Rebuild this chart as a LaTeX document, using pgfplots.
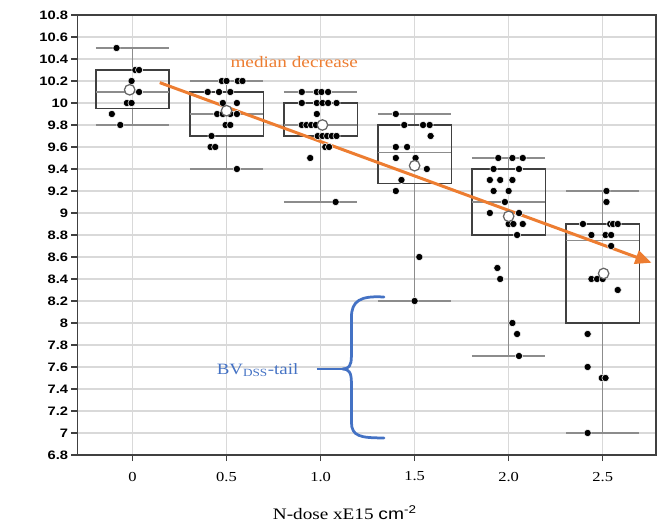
\documentclass[border=0pt]{standalone}
\usepackage{pgfplots}
\pgfplotsset{compat=1.18}
\usepgfplotslibrary{statistics}
\usetikzlibrary{arrows.meta}
\usepackage{fontspec}
\setmainfont{Liberation Serif}
\newfontfamily\serifw{Liberation Serif}[FakeStretch=1.2]
\newfontfamily\sansw{Liberation Sans}[FakeStretch=1.2]
\definecolor{morange}{HTML}{ED7D31}
\definecolor{mblue}{HTML}{4472C4}
\definecolor{axcol}{HTML}{404040}
\definecolor{whcol}{HTML}{8C8C8C}
\definecolor{gridcol}{HTML}{D9D9D9}
\begin{document}
\begin{tikzpicture}
\begin{axis}[
  scale only axis,
  width=462.8pt, height=352pt,
  xmin=-0.585, xmax=5.567,
  ymin=6.8, ymax=10.8,
  axis line style={draw=axcol, line width=1.1pt},
  xtick={0,1,2,3,4,5},
  xticklabels={0,0.5,1.0,1.5,2.0,2.5},
  ytick={6.8,7,7.2,7.4,7.6,7.8,8,8.2,8.4,8.6,8.8,9,9.2,9.4,9.6,9.8,10,10.2,10.4,10.6,10.8},
  yticklabels={6.8,7,7.2,7.4,7.6,7.8,8,8.2,8.4,8.6,8.8,9,9.2,9.4,9.6,9.8,10,10.2,10.4,10.6,10.8},
  tick align=outside,
  xtick pos=bottom, ytick pos=left,
  major tick length=5pt,
  tick style={draw=axcol, line width=1pt},
  grid=major,
  major grid style={draw=gridcol, line width=1.2pt},
  /pgf/number format/assume math mode=true,
  xticklabel style={font=\fontsize{11}{13}\selectfont\serifw, yshift=-5pt},
  yticklabel style={font=\fontsize{9.8}{11}\selectfont\sansw\bfseries, xshift=1pt},
  xlabel={N-dose xE15 {\sansw cm}\textsuperscript{\sansw -2}},
  xlabel style={font=\fontsize{12.8}{14}\selectfont\serifw, at={(axis description cs:0.462,0)}, anchor=center, yshift=-46pt},
  boxplot/draw direction=y,
  boxplot/box extend=0.78,
  boxplot/whisker extend=0.78,
  boxplot/every box/.style={draw=axcol, line width=1.1pt},
  boxplot/every whisker/.style={draw=whcol, line width=1pt},
  boxplot/every median/.style={draw=whcol, line width=1pt},
]
\addplot[draw=axcol, mark=none, boxplot prepared={draw position=0, lower whisker=9.8, lower quartile=9.95, median=10.1, upper quartile=10.3, upper whisker=10.5}] coordinates {};
\addplot[draw=axcol, mark=none, boxplot prepared={draw position=1, lower whisker=9.4, lower quartile=9.7, median=9.9, upper quartile=10.1, upper whisker=10.2}] coordinates {};
\addplot[draw=axcol, mark=none, boxplot prepared={draw position=2, lower whisker=9.1, lower quartile=9.7, median=9.8, upper quartile=10.0, upper whisker=10.1}] coordinates {};
\addplot[draw=axcol, mark=none, boxplot prepared={draw position=3, lower whisker=8.2, lower quartile=9.27, median=9.55, upper quartile=9.8, upper whisker=9.9}] coordinates {};
\addplot[draw=axcol, mark=none, boxplot prepared={draw position=4, lower whisker=7.7, lower quartile=8.8, median=9.1, upper quartile=9.4, upper whisker=9.5}] coordinates {};
\addplot[draw=axcol, mark=none, boxplot prepared={draw position=5, lower whisker=7.0, lower quartile=8.0, median=8.75, upper quartile=8.9, upper whisker=9.2}] coordinates {};
\addplot[only marks, mark=*, mark size=2.9pt, mark options={fill=black, draw=white, line width=0.4pt}] coordinates {
(-0.17,10.5) (0.03,10.3) (0.07,10.3) (-0.01,10.2) (0.07,10.1) (-0.06,10.0) (-0.01,10.0) (-0.22,9.9) (-0.13,9.8)
(0.95,10.2) (1.0,10.2) (1.12,10.2) (1.17,10.2)
(0.8,10.1) (0.92,10.1) (1.04,10.1)
(0.96,10.0) (1.11,10.0)
(0.9,9.9) (0.96,9.9) (1.04,9.9) (1.11,9.9)
(0.99,9.8) (1.04,9.8)
(0.84,9.7)
(0.83,9.6) (0.88,9.6)
(1.11,9.4)
(1.8,10.1) (1.96,10.1) (2.01,10.1) (2.08,10.1)
(1.8,10.0) (1.96,10.0) (2.02,10.0) (2.08,10.0) (2.17,10.0)
(1.96,9.9)
(1.8,9.8) (1.85,9.8) (1.9,9.8) (1.95,9.8)
(1.97,9.7) (2.02,9.7) (2.07,9.7) (2.12,9.7) (2.17,9.7)
(2.05,9.6) (2.09,9.6)
(1.89,9.5)
(2.16,9.1)
(2.8,9.9)
(2.89,9.8) (3.09,9.8) (3.16,9.8)
(3.17,9.7)
(2.8,9.6) (2.92,9.6)
(2.8,9.5) (3.01,9.5)
(3.13,9.4)
(2.86,9.3)
(2.8,9.2)
(3.05,8.6)
(3.0,8.2)
(3.89,9.5) (4.04,9.5) (4.15,9.5)
(3.84,9.4) (4.11,9.4)
(3.8,9.3) (3.91,9.3) (4.04,9.3)
(3.84,9.2) (4.0,9.2)
(3.96,9.1)
(3.8,9.0) (4.11,9.0)
(4.0,8.9) (4.05,8.9) (4.15,8.9)
(4.09,8.8)
(3.88,8.5)
(3.91,8.4)
(4.04,8.0)
(4.09,7.9)
(4.11,7.7)
(5.04,9.2)
(5.04,9.1)
(4.79,8.9) (5.08,8.9) (5.11,8.9) (5.16,8.9)
(4.88,8.8) (5.03,8.8) (5.09,8.8)
(5.09,8.7)
(4.88,8.4) (4.94,8.4) (5.0,8.4)
(5.16,8.3)
(4.84,7.9)
(4.84,7.6)
(4.99,7.5) (5.03,7.5)
(4.84,7.0)
};
\addplot[only marks, mark=*, mark size=4.2pt, mark options={fill=white, draw=black!60, line width=1pt}] coordinates {
(-0.03,10.12) (1.0,9.93) (2.02,9.8) (3.0,9.43) (4.0,8.97) (5.01,8.45)
};
\draw[morange, line width=2.4pt, -{Triangle[length=13pt,width=11pt]}] (axis cs:0.29,10.185) -- (axis cs:5.52,8.548);
\node[morange, font=\fontsize{12.8}{14}\selectfont\serifw] at (axis cs:1.72,10.37) {median decrease};
\draw[mblue, line width=2.2pt, line cap=round, line join=round]
  (axis cs:2.674,8.236) .. controls (axis cs:2.42,8.25) and (axis cs:2.328,8.20) .. (axis cs:2.328,8.05)
  -- (axis cs:2.328,7.70) .. controls (axis cs:2.328,7.61) and (axis cs:2.30,7.582) .. (axis cs:2.235,7.582)
  .. controls (axis cs:2.30,7.582) and (axis cs:2.328,7.55) .. (axis cs:2.328,7.46)
  -- (axis cs:2.328,7.10) .. controls (axis cs:2.328,6.97) and (axis cs:2.42,6.955) .. (axis cs:2.674,6.955);
\draw[mblue, line width=2.2pt] (axis cs:1.957,7.582) -- (axis cs:2.235,7.582);
\node[mblue, font=\fontsize{12.6}{14}\selectfont\serifw] at (axis cs:1.33,7.573) {BV\textsubscript{DSS}-tail};
\node[rotate=90, font=\fontsize{13}{15}\selectfont] at ([xshift=-32.8pt]rel axis cs:0,0.482) {BV\textsubscript{DSS} (Volt)};
\end{axis}
\draw[axcol, line width=1.1pt] (current axis.north west) -- (current axis.north east) -- (current axis.south east);
\path[use as bounding box] ([xshift=-62pt,yshift=-53.6pt]current axis.south west) rectangle ([xshift=6.4pt,yshift=12pt]current axis.north east);
\end{tikzpicture}
\end{document}
